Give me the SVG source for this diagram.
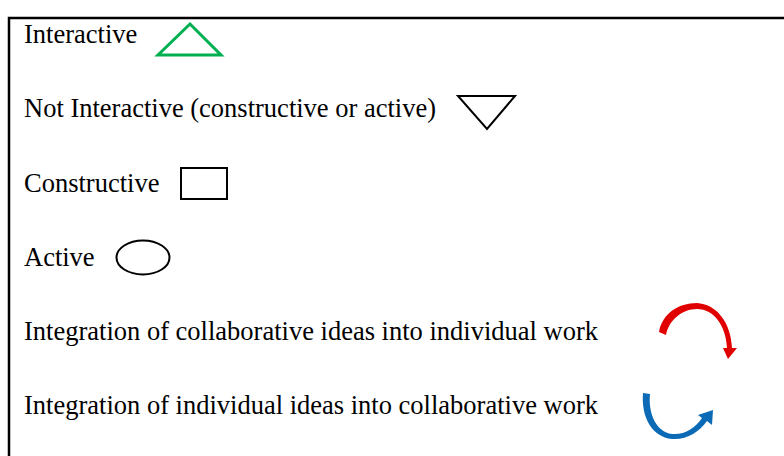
<svg xmlns="http://www.w3.org/2000/svg" width="784" height="456" viewBox="0 0 784 456">
<style>
text{font-family:"Liberation Serif","Times New Roman",serif;font-size:26.5px;fill:#000}
.sym{fill:none;stroke:#000;stroke-width:2}
</style>
<rect width="784" height="456" fill="#fff"/>
<path d="M9 470 V18 H800" fill="none" stroke="#000" stroke-width="2.5"/>
<g id="interactive">
<text x="24" y="43">Interactive</text>
<polygon points="190,24 158,55 221,55" fill="none" stroke="#00b050" stroke-width="3"/>
</g>
<g id="not-interactive">
<text x="24" y="117">Not Interactive (constructive or active)</text>
<polygon class="sym" points="458,96 515,96 487,129"/>
</g>
<g id="constructive">
<text x="24" y="192">Constructive</text>
<rect class="sym" x="181" y="168" width="46" height="31"/>
</g>
<g id="active">
<text x="24" y="266">Active</text>
<ellipse class="sym" cx="143" cy="257.5" rx="26.5" ry="17"/>
</g>
<g id="collab-to-individual">
<text x="24" y="340">Integration of collaborative ideas into individual work</text>
<path d="M659 332 C662 314 678 303 697 303 C716 304 731 322 732 348 L737 348 L728 359 L723 348 L727 348 C726 326 714 309 697 309 C682 309 669 320 666 335 Z" fill="#e00000"/>
</g>
<g id="individual-to-collab">
<text x="24" y="414">Integration of individual ideas into collaborative work</text>
<path d="M643 393 L650 394 C648 413 656 432 672 434 C685 435 695 428 702 418 L698 415 L713 410 L712 425 L707 421 C699 432 687 440 672 439 C652 437 641 417 643 393 Z" fill="#0a6ab5"/>
</g>
</svg>
